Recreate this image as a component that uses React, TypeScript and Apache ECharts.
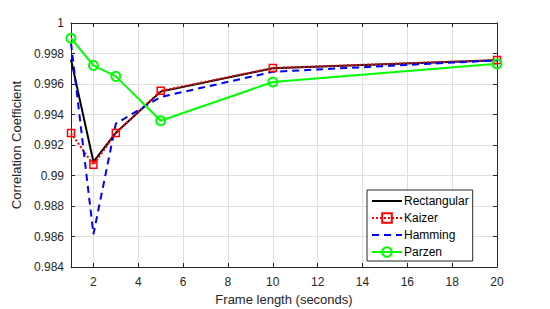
import React, { useEffect, useRef } from "react";
import * as echarts from "echarts";

const frameLengths = [1, 2, 3, 5, 10, 20];
const rectangular = [0.9976, 0.9909, 0.9928, 0.9955, 0.99703, 0.99755];
const kaizer = [0.99278, 0.9907, 0.99278, 0.99555, 0.99705, 0.99757];
const hamming = [0.9987, 0.98615, 0.9934, 0.99515, 0.9968, 0.99755];
const parzen = [0.999, 0.99722, 0.9965, 0.99359, 0.99613, 0.99732];
const xTicks = [2, 4, 6, 8, 10, 12, 14, 16, 18, 20];
const seriesNames = ["Rectangular", "Kaizer", "Hamming", "Parzen"];

const pairs = (ys: number[]) => frameLengths.map((x, i) => [x, ys[i]]);

const FONT = "'Liberation Sans', Arial, Helvetica, sans-serif";
const AX = "#262626";

export default function App() {
  const ref = useRef<HTMLDivElement>(null);
  useEffect(() => {
    document.body.style.margin = "0";
    const chart = echarts.init(ref.current!, null, { renderer: "svg" });
    const xBase = {
      type: "value" as const,
      min: 1,
      max: 20,
      axisLine: { show: true, lineStyle: { color: AX, width: 1 } },
      axisTick: { show: true, inside: true, length: 4, customValues: xTicks, lineStyle: { color: AX } },
    };
    const yBase = {
      type: "value" as const,
      min: 0.984,
      max: 1,
      interval: 0.002,
      axisLine: { show: true, lineStyle: { color: AX, width: 1 } },
      axisTick: { show: true, inside: true, length: 4, lineStyle: { color: AX } },
    };
    chart.setOption({
      animation: false,
      backgroundColor: "#ffffff",
      textStyle: { fontFamily: FONT },
      grid: { left: 71, right: 53, top: 23, bottom: 42, containLabel: false, outerBoundsMode: "none" },
      xAxis: [
        {
          ...xBase,
          position: "bottom",
          name: "Frame length (seconds)",
          nameLocation: "middle",
          nameGap: 26,
          nameTextStyle: { color: AX, fontSize: 13, fontFamily: FONT },
          axisLabel: { customValues: xTicks, color: AX, fontSize: 12, margin: 9, fontFamily: FONT },
          splitLine: { show: true, lineStyle: { color: "#dfdfdf", width: 1 } },
        },
        {
          ...xBase,
          position: "top",
          axisLabel: { show: false },
          splitLine: { show: false },
        },
      ],
      yAxis: [
        {
          ...yBase,
          position: "left",
          name: "Correlation Coefficient",
          nameLocation: "middle",
          nameGap: 42,
          nameTextStyle: { color: AX, fontSize: 13, fontFamily: FONT },
          axisLabel: {
            color: AX,
            fontSize: 12,
            margin: 7,
            fontFamily: FONT,
            formatter: (v: number) => String(+v.toFixed(3)),
          },
          splitLine: { show: true, lineStyle: { color: "#dfdfdf", width: 1 } },
        },
        {
          ...yBase,
          position: "right",
          axisLabel: { show: false },
          splitLine: { show: false },
        },
      ],
      legend: {
        orient: "vertical",
        left: 367,
        top: 190,
        backgroundColor: "#ffffff",
        borderColor: AX,
        borderWidth: 1,
        borderRadius: 0,
        padding: [5, 4, 3, 4],
        itemWidth: 30,
        itemHeight: 12,
        itemGap: 5,
        textStyle: { color: "#000", fontSize: 12, fontFamily: FONT, padding: [0, 0, 0, -3] },
        data: [
          { name: seriesNames[0], itemStyle: { opacity: 0 } },
          { name: seriesNames[1] },
          { name: seriesNames[2], itemStyle: { opacity: 0 } },
          { name: seriesNames[3] },
        ],
      },
      series: [
        {
          name: seriesNames[0],
          type: "line",
          data: pairs(rectangular),
          symbol: "none",
          color: "#000000",
          lineStyle: { color: "#000000", width: 2 },
        },
        {
          name: seriesNames[1],
          type: "line",
          data: pairs(kaizer),
          symbol: "rect",
          symbolSize: 7,
          color: "#ff0000",
          itemStyle: { color: "rgba(255,255,255,0)", borderColor: "#ff0000", borderWidth: 1.5 },
          lineStyle: { color: "#ff0000", width: 2, type: [2, 2] },
        },
        {
          name: seriesNames[2],
          type: "line",
          data: pairs(hamming),
          symbol: "none",
          color: "#0000ff",
          lineStyle: { color: "#0000ff", width: 2, type: [7, 5] },
        },
        {
          name: seriesNames[3],
          type: "line",
          data: pairs(parzen),
          symbol: "circle",
          symbolSize: 9,
          color: "#00ff00",
          itemStyle: { color: "rgba(255,255,255,0)", borderColor: "#00ff00", borderWidth: 2 },
          lineStyle: { color: "#00ff00", width: 2 },
        },
      ],
    });
    return () => chart.dispose();
  }, []);
  return <div ref={ref} style={{ width: 550, height: 309 }} />;
}
